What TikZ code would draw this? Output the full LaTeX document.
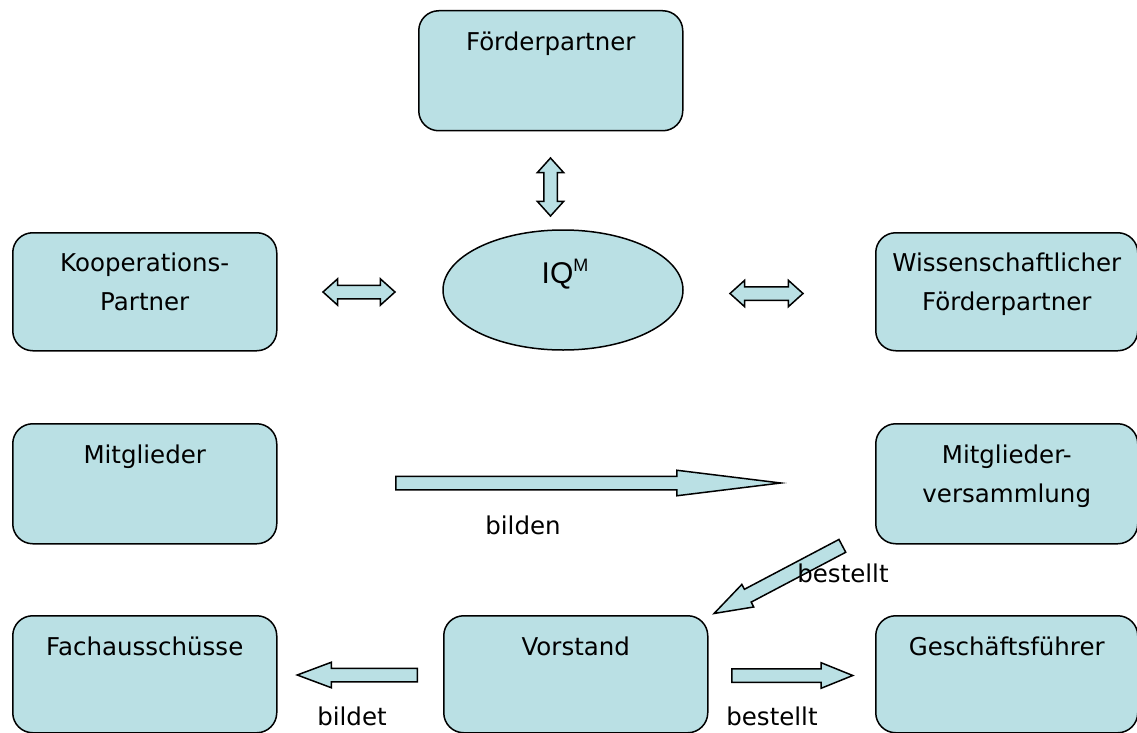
\documentclass[tikz,border=0pt]{standalone}
\usepackage{fontspec}
\setmainfont{DejaVu Sans}
\newfontfamily\iqfont{Liberation Sans}
\usetikzlibrary{positioning,shapes.geometric,shapes.arrows}
\definecolor{boxblue}{RGB}{186,224,228}

\tikzset{
    box/.style={draw, fill=boxblue, line width=1.5pt, rounded corners=20pt,
        minimum width=264pt, minimum height=120pt, anchor=north west, inner sep=0pt},
    boxtext/.style={font=\fontsize{24.5}{39}\selectfont, align=center, inner sep=0pt},
    arrowtext/.style={font=\fontsize{24.5}{29}\selectfont, inner sep=0pt, anchor=base},
    dblarrow/.style={draw, fill=boxblue, line width=1.5pt, double arrow,
        double arrow head extend=6.5pt, double arrow tip angle=84,
        minimum width=25pt, inner xsep=0pt, inner ysep=6pt},
    blockarrow/.style={draw, fill=boxblue, line width=1.5pt, single arrow,
        single arrow head extend=6pt, minimum width=24pt,
        inner xsep=0pt, inner ysep=6pt, anchor=tail},
}

\begin{document}
\begin{tikzpicture}
[
    x=1pt, y=-1pt,
]
\useasboundingbox (0,0) rectangle (1137,733);

% boxes
\node [box] (fp) at (418,10) {};
\node [box, minimum height=118pt] (kp) at (12,232) {};
\node [box, minimum height=118pt, minimum width=262pt] (wf) at (875,232) {};
\node [box] (mg) at (12,423) {};
\node [box, minimum width=262pt] (mv) at (875,423) {};
\node [box, minimum height=117pt] (fa) at (12,615) {};
\node [box, minimum height=117pt] (vs) at (443,615) {};
\node [box, minimum height=117pt, minimum width=262pt] (gf) at (875,615) {};

\node [boxtext, below=22pt of fp.north] (fp-text) {Förderpartner};
\node [boxtext, below=21pt of kp.north] (kp-text) {Kooperations-\\Partner};
\node [boxtext, below=21pt of wf.north] (wf-text) {Wissenschaftlicher\\Förderpartner};
\node [boxtext, below=22pt of mg.north] (mg-text) {Mitglieder};
\node [boxtext, below=22pt of mv.north] (mv-text) {Mitglieder-\\versammlung};
\node [boxtext, below=22pt of fa.north] (fa-text) {Fachausschüsse};
\node [boxtext, below=22pt of vs.north] (vs-text) {Vorstand};
\node [boxtext, below=22pt of gf.north] (gf-text) {Geschäftsführer};

% centre
\node [draw, fill=boxblue, line width=1.5pt, ellipse, minimum width=240pt,
    minimum height=120pt] (iqm) at (563,290) {};
\node [font=\iqfont\fontsize{30}{30}\selectfont, inner sep=0pt, anchor=base]
    (iqm-text) at (565,283) {IQ\raisebox{12pt}{\fontsize{18}{18}\selectfont M}};

% arrows
\node [dblarrow, minimum height=58pt, rotate=90] (a-fp) at (550.5,187) {};
\node [dblarrow, minimum height=72pt] (a-kp) at (359,292) {};
\node [dblarrow, minimum height=73pt] (a-wf) at (766.5,293.5) {};
\node [blockarrow, minimum height=385pt, single arrow tip angle=14] (a-bilden) at (395,483) {};
\node [blockarrow, minimum height=145pt, single arrow tip angle=37, inner ysep=6.5pt,
    single arrow head extend=5.5pt, rotate=207.8] (a-mv) at (843,545.5) {};
\node [blockarrow, minimum height=120pt, single arrow tip angle=41, rotate=180] (a-fa) at (418,675) {};
\node [blockarrow, minimum height=121pt, single arrow tip angle=44] (a-gf) at (731,675.5) {};

\node [arrowtext] (l-bilden) at (523,534) {bilden};
\node [arrowtext] (l-mv) at (843,582) {bestellt};
\node [arrowtext] (l-fa) at (352,725) {bildet};
\node [arrowtext] (l-gf) at (772,725) {bestellt};
\end{tikzpicture}
\end{document}
